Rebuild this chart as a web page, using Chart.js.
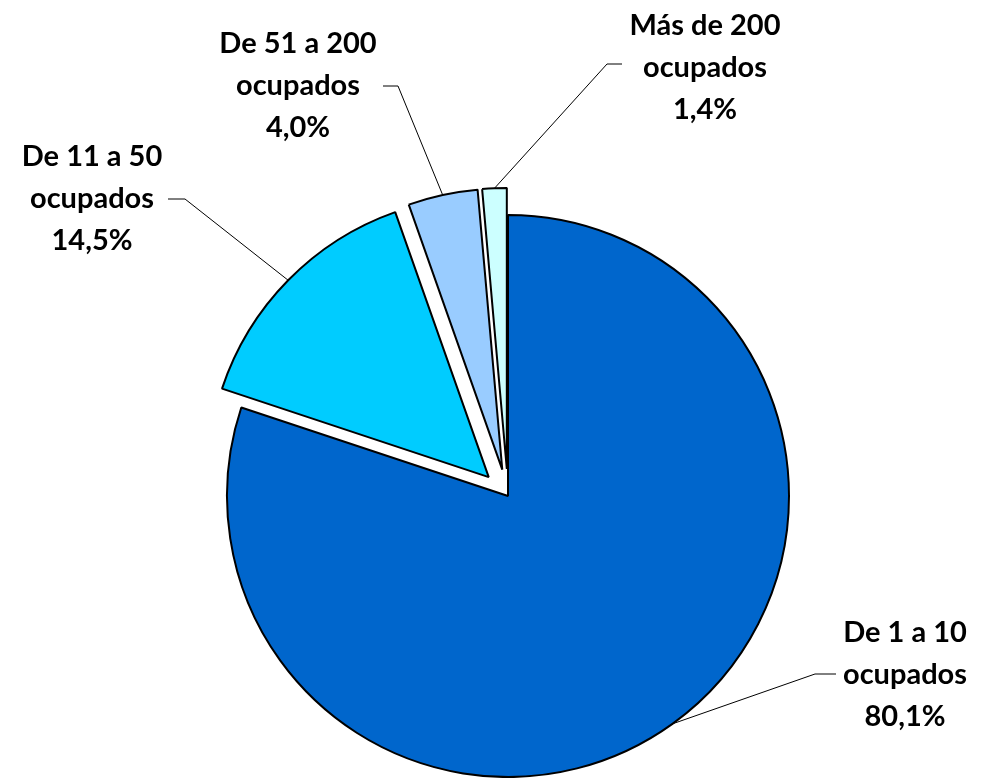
<!DOCTYPE html>
<html>
<head>
<meta charset="utf-8">
<script src="https://cdn.jsdelivr.net/npm/chart.js@4.4.1/dist/chart.umd.min.js"></script>
<style>
  html, body { margin: 0; padding: 0; background: #fff; }
  #wrap { width: 990px; height: 778px; }
</style>
</head>
<body>
<div id="wrap"><canvas id="pie" width="990" height="778"></canvas></div>
<script>
// data
const categories = ['De 1 a 10 ocupados', 'De 11 a 50 ocupados', 'De 51 a 200 ocupados', 'Más de 200 ocupados'];
const labelLines = [['De 1 a 10', 'ocupados'], ['De 11 a 50', 'ocupados'], ['De 51 a 200', 'ocupados'], ['Más de 200', 'ocupados']];
const shares = [80.1, 14.5, 4.0, 1.4];
const colors = ['#0066CC', '#00CCFF', '#99CCFF', '#CCFFFF'];

// how far each slice is pulled out of the pie
const explode = [0, 27, 27, 27];

// label boxes: text centre x, first line y, leader elbow
const labelLayout = [
    { cx: 905, y0: 633, lineY: 674, textEdge: 836, elbow: 815 },
    { cx: 92,  y0: 157, lineY: 199, textEdge: 168, elbow: 185 },
    { cx: 298, y0: 44,  lineY: 86,  textEdge: 383, elbow: 398 },
    { cx: 705, y0: 26,  lineY: 64,  textEdge: 622, elbow: 607 }
];
const lineGap = 42;

function pct(v) {
    return v.toFixed(1).replace('.', ',') + '%';
}

const explodePlugin = {
    id: 'explode',
    afterDatasetsUpdate(chart) {
        const meta = chart.getDatasetMeta(0);
        meta.data.forEach(function (arc, i) {
            const e = explode[i];
            if (!e) return;
            const mid = (arc.startAngle + arc.endAngle) / 2;
            arc.x += Math.cos(mid) * e;
            arc.y += Math.sin(mid) * e;
        });
    }
};

const labelPlugin = {
    id: 'sliceLabels',
    afterDatasetsDraw(chart) {
        const ctx = chart.ctx;
        const meta = chart.getDatasetMeta(0);
        ctx.save();
        meta.data.forEach(function (arc, i) {
            const lay = labelLayout[i];
            const mid = (arc.startAngle + arc.endAngle) / 2;
            const px = arc.x + Math.cos(mid) * arc.outerRadius;
            const py = arc.y + Math.sin(mid) * arc.outerRadius;
            // leader line
            ctx.strokeStyle = '#000';
            ctx.lineWidth = 1;
            ctx.beginPath();
            ctx.moveTo(lay.textEdge, lay.lineY);
            ctx.lineTo(lay.elbow, lay.lineY);
            ctx.lineTo(px, py);
            ctx.stroke();
            // text
            ctx.fillStyle = '#000';
            ctx.font = 'bold 29px Lato';
            ctx.textAlign = 'center';
            ctx.textBaseline = 'middle';
            const lines = labelLines[i].concat([pct(shares[i])]);
            lines.forEach(function (t, k) {
                ctx.fillText(t, lay.cx, lay.y0 + k * lineGap);
            });
        });
        ctx.restore();
    }
};

function draw() {
    new Chart(document.getElementById('pie'), {
        type: 'pie',
        data: {
            labels: categories,
            datasets: [{
                data: shares,
                backgroundColor: colors,
                borderColor: '#000',
                borderWidth: 2,
                offset: 0
            }]
        },
        options: {
            responsive: false,
            animation: false,
            radius: 281,
            layout: { padding: { left: 26, right: 0, top: 214, bottom: 0 } },
            plugins: {
                legend: { display: false },
                tooltip: { enabled: false }
            }
        },
        plugins: [explodePlugin, labelPlugin]
    });
}

if (document.fonts && document.fonts.load) {
    document.fonts.load('bold 29px Lato').then(draw, draw);
} else {
    draw();
}
</script>
</body>
</html>
